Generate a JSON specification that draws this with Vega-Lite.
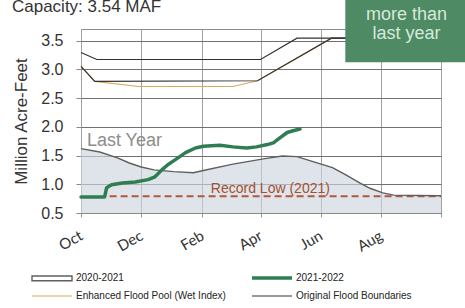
{
  "$schema": "https://vega.github.io/schema/vega-lite/v6.json",
  "autosize": {"type": "none"},
  "width": 360,
  "height": 184,
  "padding": {"left": 81, "top": 29, "right": 24, "bottom": 95},
  "background": "white",
  "config": {
    "view": {"stroke": "#8a8a8a", "strokeWidth": 1},
    "axis": {"labelFont": "Liberation Sans", "titleFont": "Liberation Sans"},
    "axisY": {"labelOverlap": false},
    "axisX": {"labelOverlap": false}
  },
  "datasets": {
    "lines": [
      {"series": "2020-2021", "part": "a", "date": "2021-10-01T00:00", "value": 1.62},
      {"series": "2020-2021", "part": "a", "date": "2021-10-20T00:00", "value": 1.56},
      {"series": "2020-2021", "part": "a", "date": "2021-11-07T00:00", "value": 1.46},
      {"series": "2020-2021", "part": "a", "date": "2021-11-19T00:00", "value": 1.37},
      {"series": "2020-2021", "part": "a", "date": "2021-12-01T00:00", "value": 1.30},
      {"series": "2020-2021", "part": "a", "date": "2021-12-14T00:00", "value": 1.25},
      {"series": "2020-2021", "part": "a", "date": "2022-01-03T00:00", "value": 1.22},
      {"series": "2020-2021", "part": "a", "date": "2022-01-23T00:00", "value": 1.20},
      {"series": "2020-2021", "part": "a", "date": "2022-02-02T00:00", "value": 1.24},
      {"series": "2020-2021", "part": "a", "date": "2022-03-04T00:00", "value": 1.35},
      {"series": "2020-2021", "part": "a", "date": "2022-04-07T00:00", "value": 1.45},
      {"series": "2020-2021", "part": "a", "date": "2022-04-23T00:00", "value": 1.49},
      {"series": "2020-2021", "part": "a", "date": "2022-05-08T00:00", "value": 1.48},
      {"series": "2020-2021", "part": "a", "date": "2022-05-21T00:00", "value": 1.41},
      {"series": "2020-2021", "part": "a", "date": "2022-06-13T00:00", "value": 1.29},
      {"series": "2020-2021", "part": "a", "date": "2022-06-27T00:00", "value": 1.16},
      {"series": "2020-2021", "part": "a", "date": "2022-07-11T00:00", "value": 1.02},
      {"series": "2020-2021", "part": "a", "date": "2022-07-21T00:00", "value": 0.93},
      {"series": "2020-2021", "part": "a", "date": "2022-08-03T00:00", "value": 0.85},
      {"series": "2020-2021", "part": "a", "date": "2022-08-14T00:00", "value": 0.81},
      {"series": "2020-2021", "part": "a", "date": "2022-10-01T00:00", "value": 0.80},

      {"series": "2021-2022", "part": "a", "date": "2021-10-01T00:00", "value": 0.78},
      {"series": "2021-2022", "part": "a", "date": "2021-10-25T00:00", "value": 0.78},
      {"series": "2021-2022", "part": "a", "date": "2021-10-27T00:00", "value": 0.94},
      {"series": "2021-2022", "part": "a", "date": "2021-11-01T00:00", "value": 0.99},
      {"series": "2021-2022", "part": "a", "date": "2021-11-12T00:00", "value": 1.02},
      {"series": "2021-2022", "part": "a", "date": "2021-11-25T00:00", "value": 1.04},
      {"series": "2021-2022", "part": "a", "date": "2021-12-08T00:00", "value": 1.08},
      {"series": "2021-2022", "part": "a", "date": "2021-12-15T00:00", "value": 1.13},
      {"series": "2021-2022", "part": "a", "date": "2021-12-22T00:00", "value": 1.25},
      {"series": "2021-2022", "part": "a", "date": "2021-12-28T00:00", "value": 1.34},
      {"series": "2021-2022", "part": "a", "date": "2022-01-04T00:00", "value": 1.42},
      {"series": "2021-2022", "part": "a", "date": "2022-01-15T00:00", "value": 1.55},
      {"series": "2021-2022", "part": "a", "date": "2022-01-25T00:00", "value": 1.63},
      {"series": "2021-2022", "part": "a", "date": "2022-02-02T00:00", "value": 1.66},
      {"series": "2021-2022", "part": "a", "date": "2022-02-19T00:00", "value": 1.68},
      {"series": "2021-2022", "part": "a", "date": "2022-03-04T00:00", "value": 1.65},
      {"series": "2021-2022", "part": "a", "date": "2022-03-18T00:00", "value": 1.63},
      {"series": "2021-2022", "part": "a", "date": "2022-03-28T00:00", "value": 1.65},
      {"series": "2021-2022", "part": "a", "date": "2022-04-08T00:00", "value": 1.69},
      {"series": "2021-2022", "part": "a", "date": "2022-04-14T00:00", "value": 1.72},
      {"series": "2021-2022", "part": "a", "date": "2022-04-21T00:00", "value": 1.81},
      {"series": "2021-2022", "part": "a", "date": "2022-04-28T00:00", "value": 1.90},
      {"series": "2021-2022", "part": "a", "date": "2022-05-04T00:00", "value": 1.93},
      {"series": "2021-2022", "part": "a", "date": "2022-05-11T00:00", "value": 1.96},

      {"series": "Enhanced Flood Pool (Wet Index)", "part": "a", "date": "2021-10-01T00:00", "value": 3.05},
      {"series": "Enhanced Flood Pool (Wet Index)", "part": "a", "date": "2021-10-15T00:00", "value": 2.79},
      {"series": "Enhanced Flood Pool (Wet Index)", "part": "a", "date": "2021-11-28T00:00", "value": 2.70},
      {"series": "Enhanced Flood Pool (Wet Index)", "part": "a", "date": "2022-03-04T00:00", "value": 2.70},
      {"series": "Enhanced Flood Pool (Wet Index)", "part": "a", "date": "2022-03-29T00:00", "value": 2.80},
      {"series": "Enhanced Flood Pool (Wet Index)", "part": "a", "date": "2022-06-12T00:00", "value": 3.54},
      {"series": "Enhanced Flood Pool (Wet Index)", "part": "a", "date": "2022-10-01T00:00", "value": 3.54},

      {"series": "Original Flood Boundaries", "part": "upper", "date": "2021-10-01T00:00", "value": 3.29},
      {"series": "Original Flood Boundaries", "part": "upper", "date": "2021-10-17T00:00", "value": 3.17},
      {"series": "Original Flood Boundaries", "part": "upper", "date": "2022-04-01T00:00", "value": 3.17},
      {"series": "Original Flood Boundaries", "part": "upper", "date": "2022-05-08T00:00", "value": 3.54},
      {"series": "Original Flood Boundaries", "part": "upper", "date": "2022-10-01T00:00", "value": 3.54},
      {"series": "Original Flood Boundaries", "part": "lower", "date": "2021-10-01T00:00", "value": 3.05},
      {"series": "Original Flood Boundaries", "part": "lower", "date": "2021-10-15T00:00", "value": 2.79},
      {"series": "Original Flood Boundaries", "part": "lower", "date": "2022-03-29T00:00", "value": 2.80},
      {"series": "Original Flood Boundaries", "part": "lower", "date": "2022-06-12T00:00", "value": 3.54},
      {"series": "Original Flood Boundaries", "part": "lower", "date": "2022-10-01T00:00", "value": 3.54}
    ]
  },
  "layer": [
    {
      "data": {"name": "lines"},
      "transform": [{"filter": "datum.series === '2020-2021'"}],
      "mark": {"type": "area", "color": "#cdd6df", "opacity": 0.65},
      "encoding": {
        "x": {
          "field": "date", "type": "temporal",
          "scale": {"domain": [{"year": 2021, "month": 10, "date": 1}, {"year": 2022, "month": 10, "date": 1}]},
          "axis": {
            "title": null,
            "values": [
              {"year": 2021, "month": 10, "date": 1}, {"year": 2021, "month": 12, "date": 1},
              {"year": 2022, "month": 2, "date": 1}, {"year": 2022, "month": 4, "date": 1},
              {"year": 2022, "month": 6, "date": 1}, {"year": 2022, "month": 8, "date": 1},
              {"year": 2022, "month": 10, "date": 1}
            ],
            "labelExpr": "year(datum.value) == 2022 && month(datum.value) == 9 ? '' : timeFormat(datum.value, '%b')",
            "labelAngle": -30,
            "labelAlign": "right",
            "labelBaseline": "middle",
            "labelPadding": 17,
            "labelFont": "Lato",
            "labelFontSize": 15,
            "labelColor": "#333333",
            "tickSize": 4,
            "tickColor": "#999999",
            "domainColor": "#8a8a8a",
            "grid": true,
            "gridColor": "#a0a0a0",
            "gridWidth": 1,
            "labelOverlap": false
          }
        },
        "y": {
          "field": "value", "type": "quantitative",
          "scale": {"domain": [0.5, 3.7], "nice": false, "zero": false},
          "axis": {
            "title": "Million Acre-Feet",
            "titleFontSize": 17,
            "titleFontWeight": "normal",
            "titleColor": "#333333",
            "titlePadding": 10,
            "tickCount": 7,
            "tickMinStep": 0.5,
            "format": ".1f",
            "labelFontSize": 16,
            "labelColor": "#333333",
            "labelPadding": 13,
            "labelOverlap": false,
            "labelFlush": false,
            "tickSize": 5,
            "tickColor": "#888888",
            "domain": false,
            "grid": true,
            "gridColor": "#707070",
            "gridWidth": 1
          }
        },
        "y2": {"datum": 0.5}
      }
    },
    {
      "data": {"values": [{"start": "2021-10-30T00:00", "end": "2022-10-01T00:00", "value": 0.79}]},
      "mark": {"type": "rule", "color": "#b3573b", "strokeWidth": 2, "strokeDash": [7, 4]},
      "encoding": {
        "x": {"field": "start", "type": "temporal"},
        "x2": {"field": "end"},
        "y": {"field": "value", "type": "quantitative"}
      }
    },
    {
      "data": {"name": "lines"},
      "transform": [{"filter": "datum.series === 'Enhanced Flood Pool (Wet Index)'"}],
      "mark": {"type": "line"},
      "encoding": {
        "x": {"field": "date", "type": "temporal"},
        "y": {"field": "value", "type": "quantitative"},
        "detail": {"field": "part"},
        "color": {"field": "series", "type": "nominal"},
        "strokeWidth": {
          "field": "series", "type": "nominal",
          "scale": {
            "type": "ordinal",
            "domain": ["2020-2021", "2021-2022", "Enhanced Flood Pool (Wet Index)", "Original Flood Boundaries"],
            "range": [1.4, 3.5, 1.2, 1.2]
          }
        }
      }
    },
    {
      "data": {"name": "lines"},
      "transform": [{"filter": "datum.series === 'Original Flood Boundaries' || datum.series === '2020-2021'"}],
      "mark": {"type": "line"},
      "encoding": {
        "x": {"field": "date", "type": "temporal"},
        "y": {"field": "value", "type": "quantitative"},
        "detail": {"field": "part"},
        "color": {"field": "series", "type": "nominal"},
        "strokeWidth": {
          "field": "series", "type": "nominal",
          "scale": {
            "type": "ordinal",
            "domain": ["2020-2021", "2021-2022", "Enhanced Flood Pool (Wet Index)", "Original Flood Boundaries"],
            "range": [1.4, 3.5, 1.2, 1.2]
          }
        }
      }
    },
    {
      "data": {"name": "lines"},
      "transform": [{"filter": "datum.series === '2021-2022'"}],
      "mark": {"type": "line", "strokeCap": "round", "strokeJoin": "round"},
      "encoding": {
        "x": {"field": "date", "type": "temporal"},
        "y": {"field": "value", "type": "quantitative"},
        "strokeWidth": {
          "field": "series", "type": "nominal",
          "scale": {
            "type": "ordinal",
            "domain": ["2020-2021", "2021-2022", "Enhanced Flood Pool (Wet Index)", "Original Flood Boundaries"],
            "range": [1.4, 3.5, 1.2, 1.2]
          }
        },
        "color": {
          "field": "series", "type": "nominal",
          "scale": {
            "domain": ["2020-2021", "2021-2022", "Enhanced Flood Pool (Wet Index)", "Original Flood Boundaries"],
            "range": ["#5f5f5f", "#2f7e52", "#d9a860", "#333333"]
          },
          "legend": {
            "title": null,
            "orient": "none",
            "legendX": -49,
            "legendY": 239,
            "padding": 0,
            "direction": "horizontal",
            "columns": 2,
            "columnPadding": 19,
            "rowPadding": 2,
            "symbolType": "stroke",
            "symbolSize": 256,
            "symbolOffset": 10,
            "labelFont": "Liberation Sans",
            "labelFontSize": 10,
            "labelColor": "#222222",
            "labelOffset": 14,
            "labelLimit": 300,
            "encode": {
              "symbols": {
                "update": {
                  "shape": {"signal": "datum.value === '2020-2021' ? 'M-2.5,-0.3H2.5V0.3H-2.5Z' : 'M-2.5,0H2.5'"},
                  "fill": {"value": "#ffffff"}
                }
              }
            }
          }
        }
      }
    },
    {
      "data": {"values": [{"date": "2021-07-23T00:00", "value": 3.99, "text": "Capacity: 3.54 MAF"}]},
      "mark": {"type": "text", "align": "left", "baseline": "alphabetic", "font": "Liberation Sans", "fontSize": 17, "color": "#333333"},
      "encoding": {
        "x": {"field": "date", "type": "temporal"},
        "y": {"field": "value", "type": "quantitative"},
        "text": {"field": "text"}
      }
    },
    {
      "data": {"values": [{"date": "2021-10-07T00:00", "value": 1.75, "text": "Last Year"}]},
      "mark": {"type": "text", "align": "left", "baseline": "middle", "font": "Liberation Sans", "fontSize": 18, "color": "#8c8c8c"},
      "encoding": {
        "x": {"field": "date", "type": "temporal"},
        "y": {"field": "value", "type": "quantitative"},
        "text": {"field": "text"}
      }
    },
    {
      "data": {"values": [{"date": "2022-04-11T00:00", "value": 0.91, "text": "Record Low (2021)"}]},
      "mark": {"type": "text", "align": "center", "baseline": "middle", "font": "Liberation Sans", "fontSize": 14, "color": "#a4512f"},
      "encoding": {
        "x": {"field": "date", "type": "temporal"},
        "y": {"field": "value", "type": "quantitative"},
        "text": {"field": "text"}
      }
    },
    {
      "data": {"values": [{"start": "2022-06-26T00:00", "end": "2022-12-01T00:00", "low": 3.12, "high": 4.25}]},
      "mark": {"type": "rect", "color": "#4e8a63", "clip": false},
      "encoding": {
        "x": {"field": "start", "type": "temporal"},
        "x2": {"field": "end"},
        "y": {"field": "low", "type": "quantitative"},
        "y2": {"field": "high"}
      }
    },
    {
      "data": {"values": [
        {"date": "2022-08-27T00:00", "value": 3.95, "text": "more than"},
        {"date": "2022-08-27T00:00", "value": 3.61, "text": "last year"}
      ]},
      "mark": {"type": "text", "align": "center", "baseline": "middle", "font": "Liberation Sans", "fontSize": 18, "color": "#d6e9dc"},
      "encoding": {
        "x": {"field": "date", "type": "temporal"},
        "y": {"field": "value", "type": "quantitative"},
        "text": {"field": "text"}
      }
    }
  ]
}
